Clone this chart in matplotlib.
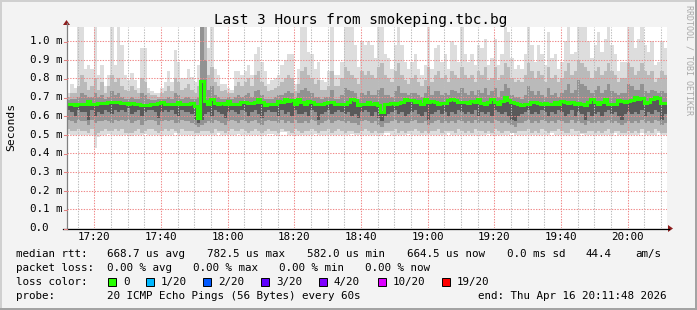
import numpy as np
import matplotlib
matplotlib.use('Agg')
import matplotlib.pyplot as plt
from matplotlib import transforms
from matplotlib.patches import Polygon, Rectangle
from matplotlib.lines import Line2D

# ---- data (ms), one value per minute, 17:11:48 -> 20:11:48 ----
start_min = 11.8  # minutes after 17:00

med = [
 0.665,0.665,0.658,0.665,0.665,0.665,0.680,0.665,0.662,0.668,
 0.668,0.670,0.672,0.672,0.672,0.672,0.668,0.667,0.665,0.667,
 0.665,0.662,0.660,0.660,0.660,0.665,0.665,0.668,0.672,0.665,
 0.662,0.662,0.662,0.675,0.662,0.662,0.662,0.670,0.655,0.587,
 0.785,0.680,0.662,0.690,0.670,0.665,0.670,0.662,0.680,0.662,
 0.662,0.665,0.672,0.676,0.668,0.668,0.672,0.690,0.672,0.658,
 0.662,0.662,0.662,0.680,0.672,0.690,0.680,0.683,0.665,0.690,
 0.672,0.665,0.680,0.672,0.665,0.662,0.665,0.668,0.672,0.672,
 0.662,0.662,0.662,0.662,0.672,0.690,0.683,0.658,0.665,0.665,
 0.676,0.665,0.668,0.658,0.619,0.665,0.665,0.668,0.665,0.668,
 0.676,0.690,0.683,0.683,0.672,0.679,0.665,0.690,0.672,0.679,
 0.672,0.662,0.668,0.668,0.683,0.690,0.683,0.676,0.672,0.672,
 0.668,0.679,0.672,0.690,0.668,0.665,0.672,0.690,0.676,0.665,
 0.679,0.701,0.683,0.672,0.668,0.665,0.658,0.662,0.665,0.672,
 0.672,0.668,0.662,0.668,0.665,0.665,0.672,0.665,0.679,0.672,
 0.668,0.672,0.665,0.668,0.665,0.658,0.672,0.690,0.672,0.665,
 0.672,0.690,0.665,0.665,0.665,0.686,0.679,0.676,0.679,0.683,
 0.701,0.690,0.693,0.668,0.672,0.690,0.701,0.693,0.668,0.668]

ping_max = [
 .72,.77,.75,1.08,1.08,.85,.87,.85,1.08,.82,
 .87,.76,.82,1.08,.87,1.08,.98,.82,.79,.83,
 .79,.75,.96,.96,.75,.73,.72,.72,.75,.78,
 .84,.78,.95,.89,.80,.80,.85,.81,.78,.87,
 1.08,1.08,.96,1.08,.85,.82,.77,.77,.75,.74,
 .84,.84,.82,.84,.87,.82,.93,.97,.89,.84,
 .77,.79,.80,.82,.87,.90,.93,.93,.77,.85,
 1.08,1.08,.94,.93,.85,.89,.79,.78,.84,1.08,
 .82,.82,.89,1.08,1.08,1.08,.98,.86,1.0,.98,
 1.0,.98,.91,1.08,1.08,.93,.91,.85,.98,1.08,
 .98,.89,.85,.89,.93,.85,.82,.87,1.08,.85,
 .96,.98,.89,.93,.85,1.0,.98,.89,1.08,.93,
 .89,.93,.87,.98,.96,1.01,.87,.91,1.01,.87,
 .93,1.08,1.05,.91,.85,.87,.85,.93,1.08,.98,
 .89,.98,.93,.87,1.05,.91,.93,.85,.89,1.0,
 1.08,.93,.94,1.08,1.08,1.08,1.0,.91,.98,1.05,
 .94,1.01,1.08,.98,.93,.84,.89,.89,1.08,1.08,
 .96,1.01,1.08,.98,.94,1.0,.87,.89,1.0,.96]

ping_18 = [
 .70,.72,.72,.76,.82,.78,.74,.76,.80,.74,
 .78,.72,.76,.82,.78,.80,.76,.74,.73,.76,
 .74,.72,.80,.78,.72,.71,.71,.70,.72,.73,
 .76,.73,.80,.78,.74,.75,.77,.74,.72,.76,
 1.08,1.08,.82,.86,.78,.76,.73,.74,.72,.72,
 .76,.78,.76,.78,.80,.76,.82,.84,.78,.76,
 .73,.74,.75,.76,.78,.80,.82,.80,.73,.77,
 .84,.86,.82,.80,.77,.79,.74,.74,.76,.84,
 .76,.76,.80,.86,.84,.82,.80,.77,.84,.82,
 .84,.82,.80,.86,.88,.82,.80,.78,.84,.88,
 .82,.79,.77,.80,.82,.78,.76,.79,.86,.78,
 .82,.84,.80,.82,.78,.84,.82,.80,.86,.82,
 .80,.82,.78,.84,.82,.86,.79,.80,.86,.79,
 .82,.88,.86,.80,.78,.79,.78,.82,.88,.84,
 .80,.84,.82,.78,.86,.80,.82,.78,.80,.84,
 .88,.82,.84,.90,.88,.86,.84,.80,.84,.86,
 .82,.84,.88,.84,.82,.78,.80,.80,.88,.86,
 .82,.84,.88,.84,.82,.84,.78,.80,.84,.82]

ping_15 = [
 .685,.69,.69,.70,.72,.71,.70,.70,.72,.70,
 .71,.69,.70,.73,.71,.72,.70,.69,.69,.70,
 .69,.69,.72,.71,.69,.685,.685,.69,.69,.69,
 .70,.69,.72,.71,.69,.70,.70,.69,.69,.70,
 1.08,.90,.74,.76,.71,.70,.69,.69,.70,.69,
 .70,.71,.70,.71,.72,.70,.73,.74,.71,.69,
 .69,.69,.70,.71,.71,.72,.73,.72,.69,.72,
 .74,.75,.73,.72,.70,.70,.69,.70,.70,.74,
 .69,.69,.71,.75,.74,.73,.72,.69,.72,.71,
 .73,.71,.71,.74,.75,.71,.71,.70,.73,.76,
 .72,.72,.71,.72,.72,.71,.70,.72,.76,.71,
 .73,.73,.71,.72,.71,.74,.73,.72,.75,.72,
 .71,.73,.71,.74,.72,.75,.71,.73,.75,.70,
 .73,.77,.75,.71,.70,.70,.69,.71,.76,.73,
 .71,.73,.71,.70,.75,.71,.72,.70,.72,.74,
 .77,.72,.74,.79,.77,.76,.74,.72,.74,.76,
 .72,.74,.77,.73,.72,.71,.72,.72,.77,.76,
 .74,.74,.77,.73,.72,.74,.73,.72,.73,.72]

ping_9 = [
 .63,.62,.60,.63,.62,.62,.58,.63,.60,.62,
 .61,.63,.62,.61,.63,.62,.63,.62,.64,.61,
 .62,.63,.60,.62,.63,.63,.62,.59,.62,.63,
 .62,.63,.61,.60,.63,.62,.62,.61,.58,.56,
 .58,.61,.62,.60,.63,.62,.61,.59,.62,.63,
 .62,.61,.63,.62,.60,.62,.63,.61,.59,.62,
 .63,.62,.62,.60,.63,.61,.62,.60,.63,.61,
 .61,.62,.60,.63,.62,.58,.61,.62,.63,.61,
 .62,.63,.62,.61,.62,.60,.61,.59,.62,.63,
 .62,.60,.62,.59,.57,.60,.61,.62,.63,.61,
 .62,.60,.61,.62,.63,.61,.60,.62,.58,.61,
 .62,.63,.61,.62,.60,.62,.61,.63,.62,.61,
 .62,.61,.63,.60,.62,.61,.62,.60,.63,.62,
 .61,.62,.60,.58,.57,.60,.61,.62,.63,.61,
 .62,.61,.63,.62,.60,.62,.61,.63,.62,.60,
 .61,.63,.60,.62,.61,.58,.62,.60,.61,.62,
 .60,.62,.63,.61,.62,.60,.58,.61,.62,.61,
 .62,.61,.63,.60,.62,.61,.63,.62,.58,.61]

ping_6 = [
 .58,.57,.56,.58,.57,.57,.55,.58,.56,.57,
 .57,.58,.57,.56,.58,.57,.58,.57,.58,.56,
 .57,.58,.55,.57,.58,.58,.57,.55,.57,.58,
 .57,.58,.56,.56,.58,.57,.57,.56,.55,.54,
 .55,.56,.57,.56,.58,.57,.56,.55,.57,.58,
 .57,.56,.58,.57,.56,.57,.58,.56,.55,.57,
 .58,.57,.57,.56,.58,.56,.57,.56,.58,.56,
 .56,.57,.56,.58,.57,.55,.56,.57,.58,.56,
 .57,.58,.57,.56,.57,.56,.56,.55,.57,.58,
 .57,.56,.57,.55,.54,.56,.56,.57,.58,.56,
 .57,.56,.56,.57,.58,.56,.56,.57,.55,.56,
 .57,.58,.56,.57,.56,.57,.56,.58,.57,.56,
 .57,.56,.58,.56,.57,.56,.57,.56,.58,.57,
 .56,.57,.56,.55,.54,.56,.56,.57,.58,.56,
 .57,.56,.58,.57,.56,.57,.56,.58,.57,.56,
 .56,.58,.56,.57,.56,.55,.57,.56,.56,.57,
 .56,.57,.58,.56,.57,.56,.55,.56,.57,.56,
 .57,.56,.58,.56,.57,.56,.58,.57,.55,.56]

ping_3 = [
 .53,.52,.52,.53,.52,.52,.51,.53,.50,.51,
 .52,.53,.52,.52,.53,.52,.53,.51,.51,.51,
 .52,.53,.51,.52,.53,.53,.52,.51,.52,.53,
 .52,.53,.52,.51,.53,.52,.52,.52,.51,.51,
 .52,.52,.52,.51,.53,.52,.52,.51,.52,.53,
 .52,.52,.53,.52,.51,.52,.53,.52,.51,.52,
 .53,.52,.52,.51,.53,.52,.52,.51,.53,.52,
 .51,.52,.52,.53,.52,.51,.52,.52,.53,.51,
 .52,.53,.52,.51,.52,.52,.51,.51,.52,.53,
 .52,.51,.52,.51,.51,.52,.52,.52,.53,.51,
 .52,.51,.52,.52,.53,.52,.51,.52,.51,.52,
 .52,.53,.51,.52,.52,.52,.51,.53,.52,.51,
 .52,.51,.53,.52,.52,.51,.52,.51,.53,.52,
 .51,.52,.52,.51,.51,.52,.52,.52,.53,.51,
 .52,.51,.53,.52,.51,.52,.52,.53,.52,.51,
 .51,.53,.52,.52,.51,.51,.52,.52,.51,.52,
 .51,.52,.53,.51,.52,.52,.51,.51,.52,.51,
 .52,.51,.53,.51,.52,.51,.53,.52,.51,.51]

ping_min = [
 .505,.50,.50,.50,.50,.50,.50,.50,.428,.487,
 .50,.50,.505,.50,.50,.50,.50,.495,.49,.49,
 .50,.50,.50,.505,.50,.50,.50,.50,.50,.50,
 .50,.50,.51,.50,.50,.50,.50,.50,.50,.50,
 .50,.50,.50,.50,.50,.51,.50,.50,.50,.50,
 .50,.505,.50,.50,.50,.50,.50,.50,.50,.50,
 .505,.505,.50,.50,.515,.515,.50,.50,.50,.50,
 .50,.50,.50,.50,.505,.50,.50,.50,.50,.50,
 .50,.50,.50,.50,.50,.505,.50,.50,.50,.50,
 .50,.50,.50,.50,.50,.51,.51,.50,.50,.50,
 .50,.50,.505,.50,.50,.50,.50,.50,.50,.50,
 .50,.50,.50,.50,.51,.50,.50,.50,.50,.50,
 .50,.50,.50,.50,.50,.50,.505,.50,.50,.50,
 .50,.50,.50,.515,.50,.50,.50,.50,.50,.50,
 .50,.50,.50,.50,.50,.51,.50,.50,.50,.50,
 .50,.50,.50,.50,.505,.50,.50,.50,.50,.50,
 .50,.50,.50,.50,.51,.50,.50,.50,.50,.50,
 .50,.50,.51,.50,.50,.50,.50,.51,.50,.50]

x_labels = ['17:20', '17:40', '18:00', '18:20', '18:40', '19:00', '19:20', '19:40', '20:00']
y_ticks = [0.0, 0.1, 0.2, 0.3, 0.4, 0.5, 0.6, 0.7, 0.8, 0.9, 1.0]

loss_labels = ['0', '1/20', '2/20', '3/20', '4/20', '10/20', '19/20']
loss_colors = ['#26ff00', '#00b8ff', '#0059ff', '#5e00ff', '#7e00ff', '#dd00ff', '#ff0000']

# ---- figure ----
W, H = 697, 310
BG = '#f3f3f3'
plt.rcParams['font.family'] = ['DejaVu Sans Mono']
fig = plt.figure(figsize=(W / 100, H / 100), dpi=100, facecolor=BG)

def fx(px):
    return px / W

def fy(py):
    return 1 - py / H

ax = fig.add_axes([fx(67), fy(228), (667 - 67) / W, (228 - 27) / H])
ax.set_facecolor('white')
for s in ax.spines.values():
    s.set_visible(False)
ax.set_xticks([])
ax.set_yticks([])
x0 = start_min
ax.set_xlim(x0, x0 + 180)
ax.set_ylim(0, 201 / 187)

edges = x0 + np.arange(len(med) + 1)

def ext(a):
    a = list(a)
    return np.array(a + [a[-1]])

bands = [
    (ping_min, ping_max, '#dddddd'),
    (ping_3, ping_18, '#bababa'),
    (ping_6, ping_15, '#929292'),
    (ping_9, med, '#595959'),
]
for lo, hi, col in bands:
    ax.fill_between(edges, ext(lo), ext(hi), step='post', color=col, lw=0, zorder=1)

# grid
tick_pos = [(int(t[:2]) - 17) * 60 + int(t[3:]) for t in x_labels]
for m in range(15, 195, 5):
    if m in tick_pos:
        continue
    ax.axvline(m, color='#bdbdbd', lw=0.75, ls=(0, (1.3, 1.3)), zorder=2)
for m in tick_pos:
    ax.axvline(m, color='#f08a8a', lw=0.75, ls=(0, (1.3, 1.3)), zorder=2)
for v in y_ticks[1:]:
    ax.axhline(v, color='#f08a8a', lw=0.75, ls=(0, (1.3, 1.3)), zorder=2)

# median line
ax.step(edges, ext(med), where='post', color=loss_colors[0], lw=2.2, zorder=3,
        solid_joinstyle='miter')

# axes lines and arrows
fig.add_artist(Line2D([fx(63), fx(669)], [fy(228.5), fy(228.5)], color='black', lw=0.9))
fig.add_artist(Line2D([fx(66.5), fx(66.5)], [fy(228.5), fy(23)], color='#808080', lw=0.9))
fig.add_artist(Polygon([[fx(668), fy(225)], [fx(673), fy(228.5)], [fx(668), fy(232)]],
                       closed=True, color='#8e1d1d', lw=0))
fig.add_artist(Polygon([[fx(63), fy(25)], [fx(66.5), fy(20)], [fx(70), fy(25)]],
                       closed=True, color='#8e1d1d', lw=0))

# y tick labels and small tick marks
ytr = transforms.blended_transform_factory(fig.transFigure, ax.transData)
for v in y_ticks:
    lab = '0.0' if v == 0 else '%.1f m' % v
    ax.text(fx(29.5), v, lab, transform=ytr, ha='left', va='center', fontsize=7.8)
    ypix = 228.5 - v * 187
    fig.add_artist(Line2D([fx(63.5), fx(66.5)], [fy(ypix), fy(ypix)], color='#e08080', lw=0.75))

# x tick labels
xtr = transforms.blended_transform_factory(ax.transData, fig.transFigure)
for p, lab in zip(tick_pos, x_labels):
    ax.text(p, fy(237.5), lab, transform=xtr, ha='center', va='center', fontsize=7.8)

# title, y label, watermark
fig.text(fx(361), fy(20), 'Last 3 Hours from smokeping.tbc.bg', ha='center', va='center',
         fontsize=10.4)
fig.text(fx(11), fy(127), 'Seconds', rotation=90, ha='center', va='center', fontsize=8.2)
fig.text(fx(689), fy(60), 'RRDTOOL / TOBI OETIKER', rotation=-90, ha='center', va='center',
         fontsize=6.0, color='#a9a9a9')

# legend
fs = 7.8
rows = [254, 268, 282, 296]
fig.text(fx(16), fy(rows[0]), 'median rtt:', va='center', fontsize=fs)
for x, s in zip([107, 207, 307, 407, 507, 586, 635],
                ['668.7 us avg', '782.5 us max', '582.0 us min', '664.5 us now',
                 '0.0 ms sd', '44.4', 'am/s']):
    fig.text(fx(x), fy(rows[0]), s, va='center', fontsize=fs)
fig.text(fx(16), fy(rows[1]), 'packet loss:', va='center', fontsize=fs)
for x, s in zip([107, 193, 279, 365],
                ['0.00 % avg', '0.00 % max', '0.00 % min', '0.00 % now']):
    fig.text(fx(x), fy(rows[1]), s, va='center', fontsize=fs)
fig.text(fx(16), fy(rows[2]), 'loss color:', va='center', fontsize=fs)
for bx, lab, col in zip([108, 146, 203, 261, 319, 378, 442], loss_labels, loss_colors):
    fig.add_artist(Rectangle((fx(bx), fy(285.5)), 7.5 / W, 7.5 / H, facecolor=col,
                             edgecolor='black', lw=0.7))
    fig.text(fx(bx + 15), fy(rows[2]), lab, va='center', fontsize=fs)
fig.text(fx(16), fy(rows[3]), 'probe:', va='center', fontsize=fs)
fig.text(fx(107), fy(rows[3]), '20 ICMP Echo Pings (56 Bytes) every 60s', va='center', fontsize=fs)
fig.text(fx(478), fy(rows[3]), 'end: Thu Apr 16 20:11:48 2026', va='center', fontsize=fs)

# image border shading
fig.add_artist(Rectangle((0, 0), 1, 2 / H, facecolor='#a3a3a3', lw=0))
fig.add_artist(Rectangle((1 - 2 / W, 0), 2 / W, 1, facecolor='#a3a3a3', lw=0))
fig.add_artist(Rectangle((0, 1 - 2 / H), 1 - 2 / W, 2 / H, facecolor='#d0d0d0', lw=0))
fig.add_artist(Rectangle((0, 2 / H), 2 / W, 1 - 4 / H, facecolor='#d0d0d0', lw=0))

fig.savefig('out.png', dpi=100, facecolor=BG)
